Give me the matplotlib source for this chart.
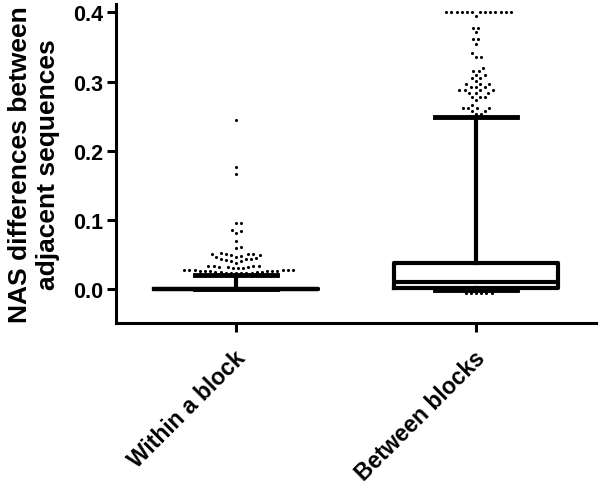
import numpy as np
import matplotlib
matplotlib.use("Agg")
import matplotlib.pyplot as plt
import matplotlib.transforms as mtransforms

plt.rcParams['font.family'] = ['Liberation Sans', 'DejaVu Sans']
plt.rcParams['font.weight'] = 'bold'

# ---- data ----
categories = ["Within a block", "Between blocks"]
y_ticks = [0.0, 0.1, 0.2, 0.3, 0.4]
y_tick_labels = ["0.0", "0.1", "0.2", "0.3", "0.4"]
y_label = "NAS differences between\nadjacent sequences"

# box statistics: [within, between]
medians = [0.0, 0.0105]
q1s = [0.0, 0.0022]
q3s = [0.0, 0.037]
whis_lo = [0.0, -0.002]
whis_hi = [0.02, 0.249]

within_outliers = [
    0.245, 0.176, 0.167,
    0.095, 0.095, 0.086, 0.084, 0.081, 0.069, 0.061, 0.059,
    0.052, 0.051, 0.051, 0.050, 0.050, 0.049, 0.049, 0.048, 0.047, 0.047,
    0.045, 0.044, 0.044, 0.043, 0.042, 0.041, 0.040, 0.038,
    0.034, 0.033, 0.033, 0.033, 0.032, 0.032, 0.032, 0.031, 0.031, 0.030,
    0.027, 0.027, 0.027, 0.027, 0.027, 0.027,
    0.026, 0.026, 0.026, 0.026, 0.026, 0.026,
    0.025, 0.025, 0.025, 0.025,
    0.023, 0.023, 0.023, 0.023, 0.023, 0.023,
]
between_outliers = [
    0.4, 0.4, 0.4, 0.4, 0.4, 0.4, 0.4, 0.4, 0.4, 0.4, 0.4, 0.4, 0.4,
    0.395, 0.378, 0.378, 0.371, 0.361, 0.361, 0.354, 0.341, 0.336, 0.336,
    0.320, 0.315, 0.315, 0.309, 0.309, 0.305, 0.305, 0.301,
    0.296, 0.296, 0.296, 0.292, 0.292, 0.292, 0.288, 0.288, 0.288, 0.288,
    0.284, 0.284, 0.284, 0.278, 0.278, 0.278, 0.273, 0.266,
    0.262, 0.262, 0.262, 0.262, 0.258, 0.258, 0.253, 0.253,
    -0.005, -0.005, -0.005, -0.005, -0.005, -0.005,
]

# ---- figure ----
fig = plt.figure(figsize=(6.0, 4.89), dpi=100)
ax = fig.add_axes([116 / 600, 1 - 324 / 489, 480 / 600, 319 / 489])
ax.set_xlim(0.5, 2.5)
ax.set_ylim(-0.049, 0.412)

positions = [1, 2]
stats = []
for i in range(2):
    stats.append(dict(med=medians[i], q1=q1s[i], q3=q3s[i],
                      whislo=whis_lo[i], whishi=whis_hi[i], fliers=[]))

lw = 3.0
ax.bxp(stats, positions=positions, widths=0.68, capwidths=0.34,
       showfliers=False, patch_artist=False,
       boxprops=dict(color='black', linewidth=lw),
       medianprops=dict(color='black', linewidth=lw),
       whiskerprops=dict(color='black', linewidth=lw),
       capprops=dict(color='black', linewidth=lw + 0.5))


def swarm(values, xc, d=5.2):
    vals = np.asarray(values, dtype=float)
    pts = ax.transData.transform(np.column_stack([np.full(len(vals), xc), vals]))
    order = np.argsort(vals, kind='stable')
    placed = []
    xs = np.zeros(len(vals))
    for i in order:
        x0, y = pts[i]
        cands = [x0]
        for px, py in placed:
            dy = y - py
            if abs(dy) < d:
                dx = np.sqrt(d * d - dy * dy)
                cands += [px + dx + 1e-6, px - dx - 1e-6]
        valid = [c for c in cands
                 if all((c - px) ** 2 + (y - py) ** 2 >= d * d - 1e-4 for px, py in placed)]
        best = min(valid, key=lambda c: (round(abs(c - x0), 6), -c))
        placed.append((best, y))
        xs[i] = best
    data = ax.transData.inverted().transform(np.column_stack([xs, pts[:, 1]]))
    return data[:, 0], vals


for pos, outl in zip(positions, [within_outliers, between_outliers]):
    sx, sy = swarm(outl, pos)
    ax.scatter(sx, sy, s=5, color='black', linewidths=0, zorder=3, clip_on=False)

# ---- axes styling ----
for side in ['top', 'right']:
    ax.spines[side].set_visible(False)
for side in ['left', 'bottom']:
    ax.spines[side].set_linewidth(2.2)

ax.set_yticks(y_ticks)
ax.set_yticklabels(y_tick_labels, fontsize=15.5, fontweight='bold')
ax.set_xticks(positions)
ax.set_xticklabels(categories, fontsize=16.5, fontweight='bold',
                   rotation=45, ha='right', va='top', rotation_mode='anchor')
ax.tick_params(axis='both', width=2.2, length=6.5, color='black', pad=3)
offset = mtransforms.ScaledTranslation(-2 / 100, -10 / 100, fig.dpi_scale_trans)
for lab in ax.get_xticklabels():
    lab.set_transform(lab.get_transform() + offset)

ax.set_ylabel(y_label, fontsize=19, fontweight='bold', labelpad=9, linespacing=1.2)

fig.savefig("out.png", dpi=100)
